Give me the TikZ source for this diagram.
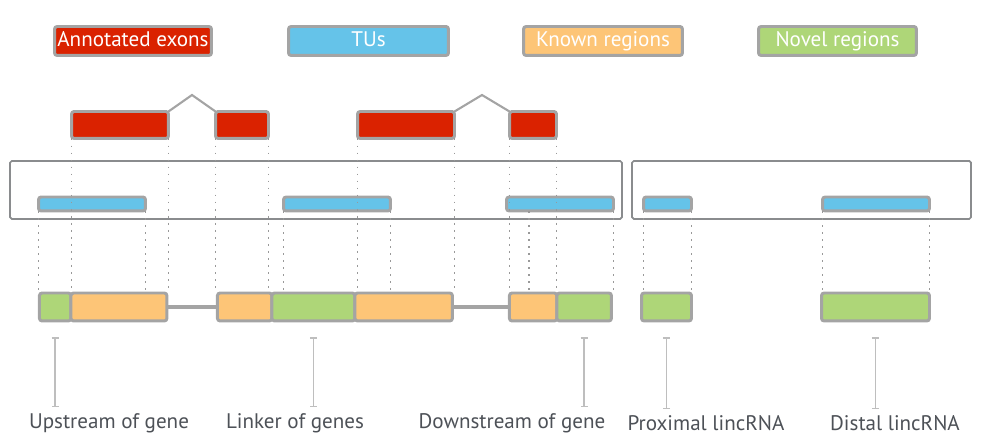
\documentclass[tikz,border=0pt]{standalone}
\usepackage{fontspec}
\setmainfont{PT Sans}
\usetikzlibrary{arrows.meta}
\definecolor{exonred}{HTML}{DA2200}
\definecolor{tublue}{HTML}{65C3E9}
\definecolor{knownorange}{HTML}{FDC577}
\definecolor{novelgreen}{HTML}{AED678}
\definecolor{boxgray}{HTML}{A4A4A4}
\definecolor{framegray}{HTML}{8A8C8E}
\definecolor{guidegray}{HTML}{999999}
\definecolor{pointgray}{HTML}{BEBEBE}
\definecolor{labelgray}{HTML}{4D5157}
\begin{document}
\begin{tikzpicture}[
  x=0.02cm, y=-0.02cm,
  box/.style={draw=boxgray,line width=1.7pt,rounded corners=1.5pt,inner sep=0pt,outer sep=0pt},
  legend/.style={box,minimum height=0.58cm,text=white,font=\large,text height=1.6ex,text depth=0.45ex},
  exon/.style={box,fill=exonred,minimum height=0.54cm},
  tu/.style={box,fill=tublue,minimum height=0.28cm},
  known/.style={box,fill=knownorange,minimum height=0.56cm},
  novel/.style={box,fill=novelgreen,minimum height=0.56cm},
  frame/.style={draw=framegray,line width=1pt,rounded corners=1pt},
  guide/.style={draw=guidegray,line width=1pt,dash pattern=on 1pt off 3pt},
  link/.style={draw=boxgray,line width=1.6pt},
  pointer/.style={draw=pointgray,line width=0.8pt,{Bar[width=4pt]}-{Bar[width=4pt]}},
  caption/.style={text=labelgray,font=\large}
]
  \useasboundingbox (0,0) rectangle (981,448);

  % legend
  \node[legend,fill=exonred,minimum width=3.14cm]     (legA) at (133,41)   {Annotated exons};
  \node[legend,fill=tublue,minimum width=3.2cm]       (legB) at (368.5,41) {TUs};
  \node[legend,fill=knownorange,minimum width=3.18cm] (legC) at (603,41)   {Known regions};
  \node[legend,fill=novelgreen,minimum width=3.16cm]  (legD) at (837.5,41) {Novel regions};

  % exons and introns
  \node[exon,minimum width=1.94cm] (ex1) at (120,125) {};
  \node[exon,minimum width=1.06cm] (ex2) at (242,125) {};
  \node[exon,minimum width=1.94cm] (ex3) at (406,125) {};
  \node[exon,minimum width=0.94cm] (ex4) at (533,125) {};
  \draw[link,line width=1.2pt] (ex1.north east) -- (192,95) -- (ex2.north west);
  \draw[link,line width=1.2pt] (ex3.north east) -- (482,95) -- (ex4.north west);

  % TUs
  \draw[frame] (10,161) rectangle (622,219);
  \draw[frame] (632,161) rectangle (971,219);
  \node[tu,minimum width=2.14cm] (tu1) at (92,204)    {};
  \node[tu,minimum width=2.14cm] (tu2) at (337,204)   {};
  \node[tu,minimum width=2.14cm] (tu3) at (560,204)   {};
  \node[tu,minimum width=0.96cm] (tu4) at (667.5,204) {};
  \node[tu,minimum width=2.14cm] (tu5) at (876,204)   {};

  % regions
  \node[novel,minimum width=0.63cm] (r1) at (55.2,307) {};
  \node[known,minimum width=1.92cm,anchor=west] (r2) at (r1.east) {};
  \node[known,minimum width=1.09cm] (r3) at (244.7,307) {};
  \node[novel,minimum width=1.66cm,anchor=west] (r4) at (r3.east) {};
  \node[known,minimum width=1.95cm,anchor=west] (r5) at (r4.east) {};
  \node[known,minimum width=0.95cm] (r6) at (533.2,307) {};
  \node[novel,minimum width=1.09cm,anchor=west] (r7) at (r6.east) {};
  \node[novel,minimum width=1.0cm]  (r8) at (666.5,307) {};
  \node[novel,minimum width=2.16cm] (r9) at (875.5,307) {};
  \draw[link,line width=2.2pt] (r2.east) -- (r3.west);
  \draw[link,line width=2.2pt] (r5.east) -- (r6.west);

  % guides
  \foreach \n in {ex1,ex2,ex3,ex4,tu1,tu2,tu4,tu5}{
    \draw[guide] (\n.south west) -- (\n.south west |- r1.north);
    \draw[guide] (\n.south east) -- (\n.south east |- r1.north);
  }
  \draw[guide] ([xshift=0.45cm]tu3.south west) -- ([xshift=0.45cm]tu3.south west |- r1.north);
  \draw[guide] (tu3.south east) -- (tu3.south east |- r1.north);

  % captions
  \node[caption] (up)     at (109,423) {Upstream of gene};
  \node[caption] (linker) at (295,423) {Linker of genes};
  \node[caption] (down)   at (512,423) {Downstream of gene};
  \node[caption] (prox)   at (706,423) {Proximal lincRNA};
  \node[caption] (dist)   at (895,423) {Distal lincRNA};
  \draw[pointer] ([yshift=-0.33cm]r1.south) -- (r1.south |- up.north);
  \draw[pointer] ([yshift=-0.33cm]r4.south) -- (r4.south |- linker.north);
  \draw[pointer] ([yshift=-0.33cm]r7.south) -- (r7.south |- down.north);
  \draw[pointer] ([yshift=-0.33cm]r8.south) -- (r8.south |- prox.north);
  \draw[pointer] ([yshift=-0.33cm]r9.south) -- (r9.south |- dist.north);
\end{tikzpicture}
\end{document}
